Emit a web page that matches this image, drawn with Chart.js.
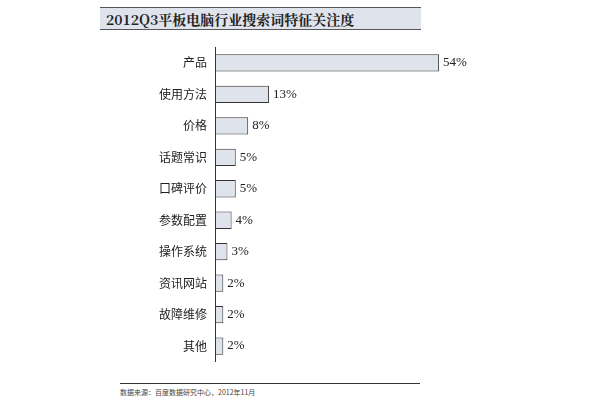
<!DOCTYPE html>
<html><head><meta charset="utf-8">
<script src="https://cdn.jsdelivr.net/npm/chart.js"></script>
<style>
body{margin:0;width:600px;height:400px;background:#fff;position:relative;font-family:"Noto Sans CJK SC",sans-serif;overflow:hidden}
#title{position:absolute;left:100px;top:7px;width:321px;height:23px;background:#dfe3ec;border-top:1px solid #555;border-bottom:1px solid #555;font:bold 14px "Noto Serif CJK SC","Liberation Serif","Noto Sans CJK SC",serif;line-height:23px;padding-left:6px;box-sizing:border-box;color:#222}
#foot{position:absolute;left:120px;top:383px;width:300px;border-top:1px solid #333;font-size:7px;color:#444;padding-top:3px}
#wrap{position:absolute;left:0;top:32px;width:600px;height:345px}
</style></head><body>
<div id="title">2012Q3平板电脑行业搜索词特征关注度</div>
<div id="wrap"><canvas id="c"></canvas></div>
<div id="foot">数据来源：百度数据研究中心，2012年11月</div>
<script>
const categories=["产品","使用方法","价格","话题常识","口碑评价","参数配置","操作系统","资讯网站","故障维修","其他"];
const values=[54,13,8,5,5,4,3,2,2,2];
const labelPlugin={id:'lbl',afterDatasetsDraw(ch){const c=ch.ctx;const m=ch.getDatasetMeta(0);c.save();c.font='13px "Liberation Serif",serif';c.fillStyle='#222';c.textBaseline='middle';m.data.forEach((b,i)=>{c.fillText(values[i]+'%',b.x+4,b.y);});c.restore();}};
new Chart(document.getElementById('c'),{type:'bar',data:{labels:categories,datasets:[{data:values,backgroundColor:'#dfe3ec',borderColor:'#333',borderWidth:1,borderSkipped:false,barPercentage:0.55,categoryPercentage:1}]},
options:{indexAxis:'y',responsive:true,maintainAspectRatio:false,animation:false,layout:{padding:{right:136,top:0,bottom:0}},
plugins:{legend:{display:false},tooltip:{enabled:false}},
scales:{x:{min:0,max:60,display:false},y:{grid:{display:false,drawTicks:false},border:{color:'#333'},ticks:{color:'#222',font:{size:12,family:'"Noto Sans CJK SC"'},padding:8},afterFit(s){s.width=215;}}}},plugins:[labelPlugin]});
</script></body></html>
